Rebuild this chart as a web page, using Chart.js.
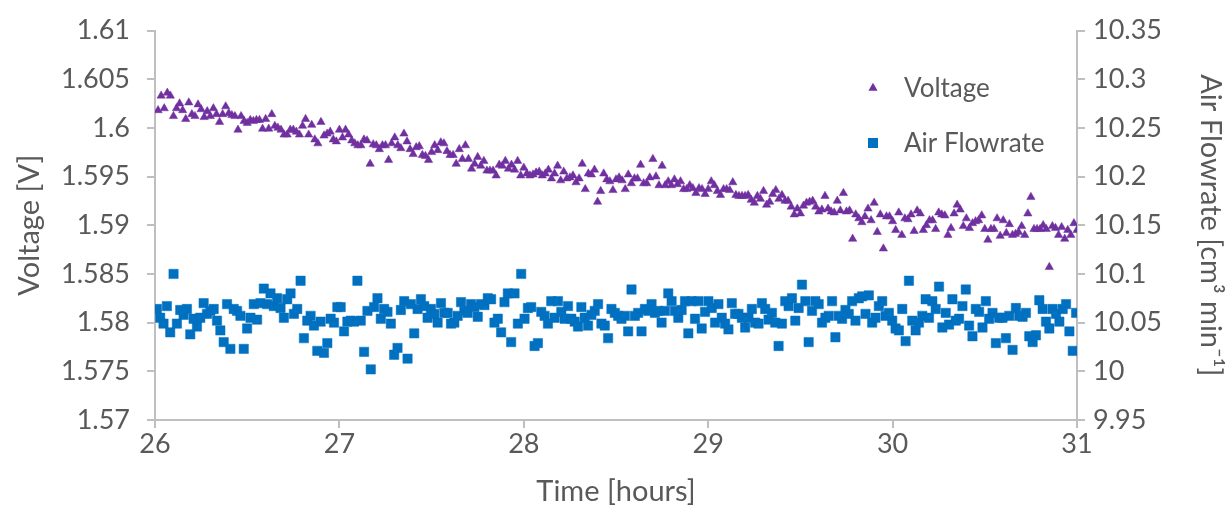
<!DOCTYPE html>
<html>
<head>
<meta charset="utf-8">
<title>Voltage and air flowrate</title>
<script src="https://cdn.jsdelivr.net/npm/chart.js@4/dist/chart.umd.min.js"></script>
<style>
  html, body { margin: 0; padding: 0; background: #fff; }
  #wrap { width: 1225px; height: 506px; }
</style>
</head>
<body>
<div id="wrap"><canvas id="flowChart" width="1225" height="506"></canvas></div>
<script>
// Logged once a minute between hour 26 and hour 31
const voltageStartHour = 26 + 1 / 60;
const voltageStepHours = 1 / 60;
const airStartHour = 26.01;
const airEndHour = 30.995;

const timeMin = 26, timeMax = 31, timeStep = 1;
const voltMin = 1.57, voltMax = 1.61, voltStep = 0.005;
const flowMin = 9.95, flowMax = 10.35, flowStep = 0.05;

// Cell voltage [V]
const voltage = [
  1.6018, 1.6033, 1.602, 1.6036, 1.6033, 1.6012, 1.602, 1.6025, 1.6018, 1.6009,
  1.6026, 1.6014, 1.6012, 1.6024, 1.6019, 1.6011, 1.6017, 1.6012, 1.602, 1.6014,
  1.6006, 1.6014, 1.6022, 1.6015, 1.6013, 1.6012, 1.5998, 1.6012, 1.6007, 1.6005,
  1.6008, 1.6007, 1.6008, 1.6008, 1.5999, 1.6009, 1.5999, 1.6014, 1.6002, 1.6,
  1.5998, 1.5993, 1.5993, 1.5998, 1.5998, 1.5996, 1.5993, 1.6002, 1.6009, 1.5993,
  1.6003, 1.5988, 1.5984, 1.6006, 1.5992, 1.5994, 1.5996, 1.5988, 1.5986, 1.5998,
  1.599, 1.5998, 1.5993, 1.5987, 1.5984, 1.5982, 1.5982, 1.5988, 1.5987, 1.5963,
  1.5983, 1.5982, 1.5978, 1.5982, 1.5982, 1.5967, 1.5984, 1.599, 1.5982, 1.5979,
  1.5994, 1.5986, 1.5978, 1.5973, 1.598, 1.5981, 1.5972, 1.5971, 1.5967, 1.5975,
  1.5982, 1.5977, 1.5985, 1.5984, 1.5976, 1.5972, 1.5972, 1.5963, 1.5978,
  1.5968, 1.5982, 1.5968, 1.5958, 1.5963, 1.597, 1.5961, 1.5966, 1.5956, 1.5956,
  1.5956, 1.5951, 1.5962, 1.5961, 1.5966, 1.5958, 1.5962, 1.5957, 1.5966, 1.5951,
  1.5959, 1.5953, 1.5951, 1.5952, 1.5954, 1.5955, 1.5951, 1.5953, 1.5957, 1.5948,
  1.5953, 1.5961, 1.5946, 1.5955, 1.5948, 1.5949, 1.5951, 1.5944, 1.5948, 1.5963,
  1.5937, 1.5953, 1.5952, 1.5957, 1.5924, 1.5935, 1.5953, 1.5947, 1.5945,
  1.5936, 1.5947, 1.5949, 1.5946, 1.5937, 1.5952, 1.5943, 1.5948, 1.5948, 1.5962,
  1.5943, 1.5943, 1.5949, 1.5968, 1.595, 1.5941, 1.5961, 1.5941, 1.5945, 1.5941,
  1.5947, 1.5942, 1.5945, 1.5937, 1.5937, 1.5941, 1.5938, 1.5933, 1.5938, 1.5937,
  1.5932, 1.5937, 1.5945, 1.5941, 1.5935, 1.5931, 1.5937, 1.5937, 1.5936, 1.5944,
  1.5931, 1.593, 1.593, 1.593, 1.5931, 1.5926, 1.5923, 1.593, 1.5927,
  1.5935, 1.5921, 1.5924, 1.5932, 1.5936, 1.5927, 1.5931, 1.5925, 1.5925, 1.5919,
  1.5911, 1.5917, 1.5912, 1.592, 1.5923, 1.5924, 1.5925, 1.5919, 1.5914, 1.5916,
  1.593, 1.5917, 1.5914, 1.5913, 1.5925, 1.5915, 1.5933, 1.5914, 1.5915, 1.5886,
  1.5911, 1.5907, 1.5903, 1.5909, 1.5917, 1.5905, 1.5923, 1.5893, 1.5911, 1.5876,
  1.5909, 1.5909, 1.5904, 1.5895, 1.5913, 1.589, 1.5907, 1.5906,
  1.5911, 1.5894, 1.5915, 1.5912, 1.5895, 1.59, 1.5905, 1.5905, 1.5896, 1.5913,
  1.5911, 1.591, 1.589, 1.5897, 1.5912, 1.5921, 1.5916, 1.5899, 1.5907, 1.5897,
  1.5902, 1.5904, 1.5905, 1.591, 1.5896, 1.5885, 1.5896, 1.5896, 1.5907, 1.5889,
  1.5905, 1.5892, 1.5901, 1.589, 1.5891, 1.5893, 1.5899, 1.589, 1.5912, 1.5929,
  1.5896, 1.5896, 1.5896, 1.59, 1.5896, 1.5857, 1.5899, 1.5897, 1.589, 1.5898,
  1.5886, 1.5895, 1.589, 1.5902, 1.5895
];

// Air flowrate [cm3 min-1]
const airFlow = [
  10.064, 10.055, 10.049, 10.067, 10.04, 10.1, 10.049, 10.063, 10.058, 10.064,
  10.038, 10.054, 10.046, 10.055, 10.07, 10.059, 10.062, 10.064, 10.052, 10.042,
  10.03, 10.069, 10.023, 10.064, 10.062, 10.057, 10.023, 10.044, 10.055, 10.069,
  10.053, 10.07, 10.085, 10.069, 10.08, 10.067, 10.075, 10.065, 10.055, 10.074,
  10.08, 10.059, 10.064, 10.093, 10.034, 10.052,
  10.057, 10.047, 10.021, 10.051, 10.019, 10.029, 10.054, 10.05, 10.066, 10.066,
  10.041, 10.051, 10.052, 10.051, 10.093, 10.052, 10.02, 10.062, 10.002, 10.066,
  10.075, 10.054, 10.064, 10.061, 10.049, 10.017, 10.024, 10.063, 10.072, 10.013,
  10.069, 10.039, 10.064, 10.074, 10.067, 10.055, 10.064, 10.059, 10.05, 10.07,
  10.06, 10.06, 10.049, 10.05, 10.057,
  10.071, 10.062, 10.06, 10.069, 10.066, 10.056, 10.069, 10.068, 10.075, 10.074,
  10.05, 10.054, 10.04, 10.071, 10.08, 10.03, 10.08, 10.049, 10.1, 10.054,
  10.065, 10.066, 10.026, 10.029, 10.061, 10.057, 10.049, 10.072, 10.055, 10.072,
  10.061, 10.054, 10.067, 10.054, 10.051, 10.046, 10.066, 10.055, 10.047, 10.058,
  10.062, 10.069, 10.049, 10.047, 10.034,
  10.064, 10.06, 10.057, 10.054, 10.057, 10.041, 10.084, 10.057, 10.06, 10.041,
  10.064, 10.062, 10.069, 10.06, 10.062, 10.05, 10.062, 10.08, 10.072, 10.062,
  10.055, 10.063, 10.072, 10.039, 10.072, 10.054, 10.072, 10.044, 10.061, 10.072,
  10.065, 10.05, 10.069, 10.055, 10.049, 10.043, 10.07, 10.059, 10.059, 10.055,
  10.045, 10.055, 10.064, 10.05,
  10.049, 10.07, 10.064, 10.053, 10.06, 10.05, 10.026, 10.049, 10.072, 10.067,
  10.075, 10.052, 10.065, 10.089, 10.072, 10.03, 10.062, 10.072, 10.069, 10.05,
  10.055, 10.057, 10.072, 10.035, 10.057, 10.054, 10.063, 10.059, 10.072, 10.052,
  10.075, 10.077, 10.059, 10.078, 10.05, 10.055, 10.067, 10.072, 10.057, 10.06,
  10.052, 10.044,
  10.042, 10.064, 10.031, 10.093, 10.052, 10.042, 10.05, 10.057, 10.074, 10.055,
  10.072, 10.064, 10.087, 10.045, 10.06, 10.048, 10.074, 10.052, 10.054, 10.067,
  10.084, 10.047, 10.036, 10.064, 10.061, 10.045, 10.072, 10.054, 10.06, 10.029,
  10.055, 10.055, 10.034, 10.057, 10.022, 10.065, 10.057, 10.056, 10.06, 10.036,
  10.03, 10.037, 10.073, 10.064, 10.051, 10.044, 10.064, 10.059, 10.051, 10.064,
  10.069, 10.041, 10.021, 10.06
];

const seriesNames = ['Voltage', 'Air Flowrate'];
const purple = '#7030A0';
const blue = '#0070C0';
const textGray = '#595959';
const axisGray = '#BFBFBF';
const fontFamily = "Lato, 'Open Sans', sans-serif";

const voltagePoints = voltage.map((v, i) => ({ x: voltageStartHour + i * voltageStepHours, y: v }));
const airStep = (airEndHour - airStartHour) / (airFlow.length - 1);
const airPoints = airFlow.map((v, i) => ({ x: airStartHour + i * airStep, y: v }));

// legend drawn inside the plot, upper right
const insideLegend = {
  id: 'insideLegend',
  afterDraw(chart) {
    const ctx = chart.ctx;
    const rows = [
      { y: 88, ds: chart.data.datasets[0] },
      { y: 143, ds: chart.data.datasets[1] }
    ];
    ctx.save();
    ctx.font = '26px ' + fontFamily;
    ctx.textBaseline = 'middle';
    ctx.textAlign = 'left';
    rows.forEach(r => {
      ctx.fillStyle = r.ds.backgroundColor;
      ctx.strokeStyle = r.ds.backgroundColor;
      ctx.lineWidth = 1;
      Chart.helpers.drawPoint(ctx, { pointStyle: r.ds.pointStyle, radius: r.ds.pointRadius + 0.5, rotation: 0 }, 873, r.y);
      ctx.fillStyle = textGray;
      ctx.fillText(r.ds.label, 904, r.y + 1);
    });
    ctx.restore();
  }
};

const tickFont = { family: fontFamily, size: 27, lineHeight: 1 };
const titleFont = { family: fontFamily, size: 29, lineHeight: 1 };

new Chart(document.getElementById('flowChart'), {
  type: 'scatter',
  data: {
    datasets: [{
      label: seriesNames[0],
      data: voltagePoints,
      yAxisID: 'y',
      pointStyle: 'triangle',
      pointRadius: 4.8,
      backgroundColor: purple,
      borderColor: purple,
      borderWidth: 0.5
    }, {
      label: seriesNames[1],
      data: airPoints,
      yAxisID: 'y1',
      pointStyle: 'rect',
      pointRadius: 6.6,
      backgroundColor: blue,
      borderColor: blue,
      borderWidth: 0.5
    }]
  },
  options: {
    responsive: false,
    animation: false,
    layout: { padding: { top: 27, left: 0, right: 0, bottom: 0 } },
    plugins: {
      legend: { display: false },
      tooltip: { enabled: false }
    },
    scales: {
      x: {
        type: 'linear',
        min: timeMin,
        max: timeMax,
        afterFit: s => { s.height = 86; },
        border: { color: axisGray, width: 2 },
        grid: { drawOnChartArea: false, color: axisGray, tickLength: 8, lineWidth: 2 },
        ticks: { stepSize: timeStep, color: textGray, font: tickFont, padding: 3, maxRotation: 0 },
        title: { display: true, text: 'Time [hours]', color: textGray, font: titleFont, padding: { top: 0, bottom: 0 } }
      },
      y: {
        position: 'left',
        min: voltMin,
        max: voltMax,
        afterFit: s => { s.width = 155; },
        border: { color: axisGray, width: 2 },
        grid: { drawOnChartArea: false, color: axisGray, tickLength: 8, lineWidth: 2 },
        ticks: {
          stepSize: voltStep,
          color: textGray,
          font: tickFont,
          padding: 17,
          callback: v => String(Number(v.toFixed(3)))
        },
        title: { display: true, text: 'Voltage [V]', color: textGray, font: titleFont, padding: { top: 15, bottom: 0 } }
      },
      y1: {
        position: 'right',
        min: flowMin,
        max: flowMax,
        afterFit: s => { s.width = 148; },
        border: { color: axisGray, width: 2 },
        grid: { drawOnChartArea: false, color: axisGray, tickLength: 8, lineWidth: 2 },
        ticks: {
          stepSize: flowStep,
          color: textGray,
          font: tickFont,
          padding: 8,
          callback: v => String(Number(v.toFixed(2)))
        },
        title: { display: true, text: 'Air Flowrate [cm³ min⁻¹]', color: textGray, font: titleFont, padding: { top: 0, bottom: 0 } }
      }
    }
  },
  plugins: [insideLegend]
});
</script>
</body>
</html>
